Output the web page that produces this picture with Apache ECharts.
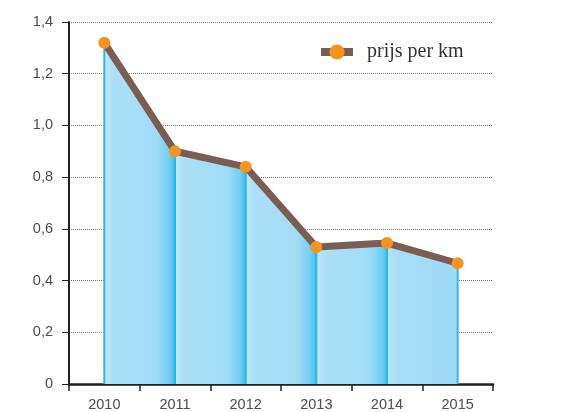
<!DOCTYPE html>
<html>
<head>
<meta charset="utf-8">
<script src="https://cdn.jsdelivr.net/npm/echarts@6/dist/echarts.min.js"></script>
<style>
  html, body { margin: 0; padding: 0; background: #fff; }
  #chart { width: 566px; height: 412px; }
</style>
</head>
<body>
<div id="chart"></div>
<script>
// data
const years = ["2010", "2011", "2012", "2013", "2014", "2015"];
const prices = [1.32, 0.9, 0.84, 0.53, 0.545, 0.467];
const seriesName = "prijs per km";

const chart = echarts.init(document.getElementById("chart"));

// one shaded area per segment, light on the left and darker towards the next year
const segGradient = (last) =>
  new echarts.graphic.LinearGradient(0, 0, 1, 0, last
    ? [
        { offset: 0, color: "#b4e3f8" },
        { offset: 0.25, color: "#a5dcf6" },
        { offset: 1, color: "#9fdaf6" },
      ]
    : [
        { offset: 0, color: "#c0e8f9" },
        { offset: 0.12, color: "#ace0f7" },
        { offset: 0.74, color: "#a0dbf6" },
        { offset: 0.92, color: "#72cdf2" },
        { offset: 1, color: "#3dbfee" },
      ]);

const areaSeries = [];
for (let i = 0; i < prices.length - 1; i++) {
  areaSeries.push({
    type: "line",
    data: prices.map((v, j) => (j === i || j === i + 1 ? v : "-")),
    symbol: "none",
    lineStyle: { width: 0 },
    areaStyle: { color: segGradient(i === prices.length - 2), opacity: 1 },
    silent: true,
    z: 1,
  });
}

const option = {
  animation: false,
  grid: { left: 69, right: 73, top: 22, bottom: 28 },
  legend: {
    data: [seriesName],
    left: 312,
    top: 37,
    itemWidth: 32,
    itemHeight: 19,
    lineStyle: { width: 8, color: "#7a5d53" },
    textStyle: {
      fontFamily: "Liberation Serif",
      fontSize: 20,
      color: "#333",
      padding: [0, 0, 0, 9],
    },
  },
  xAxis: {
    type: "category",
    data: years,
    boundaryGap: true,
    axisLine: { lineStyle: { color: "#231f20", width: 2.5 } },
    axisTick: { show: true, length: 7, lineStyle: { color: "#231f20", width: 1.5 } },
    axisLabel: {
      color: "#4d4d4d",
      fontFamily: "Liberation Sans",
      fontSize: 14.5,
      margin: 13,
    },
  },
  yAxis: {
    type: "value",
    min: 0,
    max: 1.4,
    interval: 0.2,
    axisLine: { show: true, lineStyle: { color: "#231f20", width: 2 } },
    axisTick: { show: true, length: 7, lineStyle: { color: "#231f20", width: 1 } },
    axisLabel: {
      color: "#4d4d4d",
      fontFamily: "Liberation Sans",
      fontSize: 14.5,
      margin: 16,
      formatter: (v) => (v === 0 ? "0" : v.toFixed(1).replace(".", ",")),
    },
    splitLine: { lineStyle: { color: "#7a7a7a", width: 1, type: [1, 1] } },
  },
  series: [
    ...areaSeries,
    {
      // thin vertical drop lines under each point
      type: "bar",
      data: prices,
      barWidth: 2,
      itemStyle: { color: "#29b8eb" },
      silent: true,
      z: 2,
    },
    {
      name: seriesName,
      type: "line",
      data: prices,
      symbol: "circle",
      symbolSize: 12,
      lineStyle: { color: "#7a5d53", width: 7 },
      itemStyle: { color: "#f7941d" },
      z: 5,
    },
  ],
};

chart.setOption(option);
</script>
</body>
</html>
